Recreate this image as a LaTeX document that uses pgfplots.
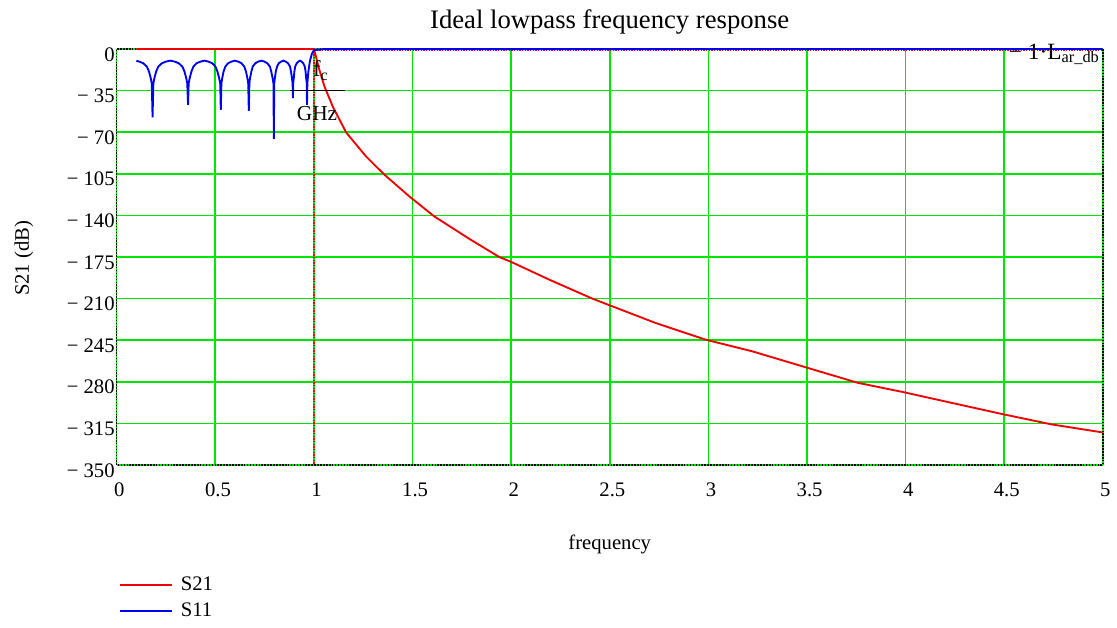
\documentclass[border=0pt]{standalone}
\usepackage{fontspec}
\setmainfont{Liberation Serif}
\usepackage{pgfplots}
\pgfplotsset{compat=1.18}

\definecolor{gridgreen}{RGB}{0,230,0}
\definecolor{tracered}{RGB}{240,0,0}
\definecolor{traceblue}{RGB}{0,0,240}

\begin{document}
\begin{tikzpicture}
\useasboundingbox (-87.5pt,-121.5pt) rectangle (750.2pt,348.75pt);
\begin{axis}[
    at={(0,0)}, anchor=south west,
    scale only axis,
    width=739.5pt, height=312pt,
    xmin=0, xmax=5, ymin=-350, ymax=0,
    clip=false,
    xtick={0,0.5,...,5},
    xticklabels={0,0.5,1,1.5,2,2.5,3,3.5,4,4.5,5},
    ytick={-350,-315,-280,-245,-210,-175,-140,-105,-70,-35,0},
    yticklabels={− 350,− 315,− 280,− 245,− 210,− 175,− 140,− 105,− 70,− 35,0},
    major tick length=0pt,
    tick label style={font=\fontsize{15.5}{18}\selectfont},
    xticklabel style={xshift=2pt, yshift=-10pt},
    yticklabel style={xshift=2pt, yshift=-4pt},
    grid=major,
    major grid style={gridgreen, line width=1.2pt},
    axis line style={black, densely dotted, line width=1.2pt},
    title={Ideal lowpass frequency response},
    title style={font=\fontsize{20}{23}\selectfont, at={(axis description cs:0.5,1.046)}, anchor=center},
    xlabel={frequency},
    xlabel style={font=\fontsize{15.5}{18}\selectfont, at={(axis description cs:0.5,-0.192)}, anchor=center},
    ylabel={S21 (dB)},
    ylabel style={font=\fontsize{15.5}{18}\selectfont, at={(axis description cs:-0.094,0.497)}, anchor=center},
    legend style={at={(axis description cs:0.002,-0.262)}, anchor=north west, draw=none, fill=none,
        font=\fontsize{15.5}{18}\selectfont, row sep=4pt, column sep=4pt, inner sep=0pt},
    legend cell align=left,
    legend image code/.code={\draw[#1] plot coordinates {(0pt,0pt) (39pt,0pt)};},
]
% marker lines (f_c and -1*L_ar_db)
\addplot[tracered, densely dotted, line width=1pt, forget plot] coordinates {(1,0) (1,-350)};
\addplot[tracered, densely dotted, line width=1pt, forget plot] coordinates {(1,-1.4) (5,-1.4)};

% S21
\addplot[tracered, line width=1.4pt] coordinates {
(0.1,0) (1.0,0) (1.01,-6) (1.025,-16) (1.054,-31.7) (1.096,-48.5) (1.164,-70.3)
(1.265,-90.5) (1.358,-105.8) (1.484,-124) (1.611,-140.9) (1.788,-159.7)
(1.940,-175) (1.995,-178.7) (2.193,-194) (2.412,-210) (2.49,-215)
(2.733,-230.5) (2.986,-244.5) (3.222,-254.3) (3.458,-266) (3.757,-280.8)
(3.99,-288.7) (4.234,-297.7) (4.484,-306.9) (4.74,-315.8) (5.0,-322.6)
};
\addlegendentry{S21}

% S11
\addplot[traceblue, line width=1.4pt] coordinates {
(0.100,-9.8) (0.114,-10.6) (0.135,-12) (0.153,-14.8) (0.164,-19) (0.173,-24.7) (0.178,-29) (0.182,-57.4)
(0.186,-29) (0.191,-24.7) (0.200,-19) (0.211,-14.8) (0.229,-12) (0.250,-10.6) (0.272,-9.8)
(0.294,-10.6) (0.315,-12) (0.333,-14.8) (0.344,-19) (0.353,-24.7) (0.358,-29) (0.362,-47)
(0.365,-29) (0.370,-24.7) (0.379,-19) (0.389,-14.8) (0.405,-12) (0.425,-10.6) (0.445,-9.8)
(0.465,-10.6) (0.485,-12) (0.501,-14.8) (0.511,-19) (0.520,-24.7) (0.525,-29) (0.528,-51.2)
(0.531,-29) (0.535,-24.7) (0.542,-19) (0.551,-14.8) (0.565,-12) (0.582,-10.6) (0.599,-9.8)
(0.616,-10.6) (0.633,-12) (0.647,-14.8) (0.656,-19) (0.663,-24.7) (0.667,-29) (0.670,-52)
(0.673,-29) (0.676,-24.7) (0.683,-19) (0.690,-14.8) (0.703,-12) (0.718,-10.6) (0.734,-9.8)
(0.749,-10.6) (0.764,-12) (0.777,-14.8) (0.784,-19) (0.791,-24.7) (0.795,-29) (0.797,-75.9)
(0.799,-29) (0.802,-24.7) (0.807,-19) (0.813,-14.8) (0.822,-12) (0.834,-10.6) (0.846,-9.8)
(0.857,-10.6) (0.869,-12) (0.879,-14.8) (0.884,-19) (0.889,-24.7) (0.892,-29) (0.894,-41.4)
(0.895,-29) (0.898,-24.7) (0.901,-19) (0.905,-14.8) (0.913,-12) (0.921,-10.6) (0.930,-9.8)
(0.938,-10.6) (0.946,-12) (0.954,-14.8) (0.958,-19) (0.961,-24.7) (0.964,-29) (0.965,-47)
(0.967,-29) (0.972,-19) (0.980,-10) (0.990,-4) (1.0,-1) (1.05,-0.1) (5.0,0)
};
\addlegendentry{S11}

% marker labels
\draw[black, line width=1.1pt] (axis cs:0.878,-35) -- (axis cs:1.156,-35);
\node[font=\fontsize{17}{20}\selectfont, inner sep=0pt] at (axis cs:1.035,-18) {f\textsubscript{c}};
\node[font=\fontsize{16}{19}\selectfont, inner sep=0pt] at (axis cs:1.016,-54) {GHz};
\node[font=\fontsize{17.5}{20}\selectfont, inner sep=0pt, anchor=base east] at (axis cs:4.985,-8.5) {− 1·L\textsubscript{ar\_db}};
\end{axis}
\end{tikzpicture}
\end{document}
